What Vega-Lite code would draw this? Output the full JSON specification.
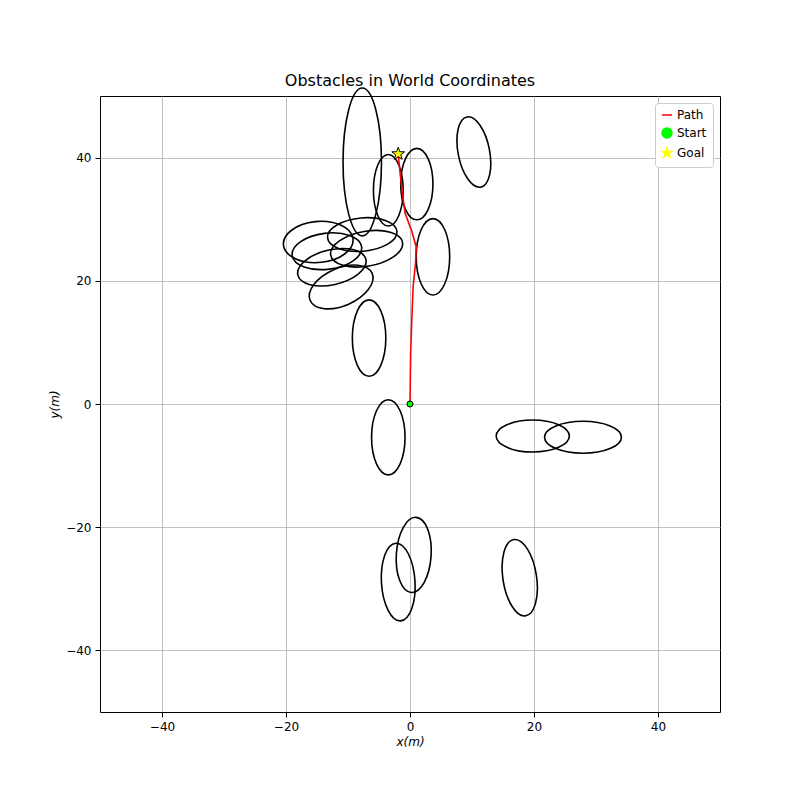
{
  "$schema": "https://vega.github.io/schema/vega-lite/v6.json",
  "width": 620,
  "height": 616,
  "autosize": "none",
  "padding": {"left": 100, "top": 96, "right": 80, "bottom": 88},
  "background": "white",
  "title": {"text": "Obstacles in World Coordinates", "fontSize": 16, "fontWeight": "normal", "font": "DejaVu Sans", "offset": -4},
  "datasets": {
    "obstacles": [
      {"id":1,"k":0,"x":-7.7,"y":51.3},{"id":1,"k":1,"x":-4.6,"y":39.3},{"id":1,"k":2,"x":-7.7,"y":27.3},{"id":1,"k":3,"x":-10.8,"y":39.3},
      {"id":2,"k":0,"x":-3.5,"y":40.5},{"id":2,"k":1,"x":-1.1,"y":34.7},{"id":2,"k":2,"x":-3.5,"y":28.9},{"id":2,"k":3,"x":-5.9,"y":34.7},
      {"id":3,"k":0,"x":1.1,"y":41.5},{"id":3,"k":1,"x":3.7,"y":35.7},{"id":3,"k":2,"x":1.1,"y":29.9},{"id":3,"k":3,"x":-1.5,"y":35.7},
      {"id":4,"k":0,"x":9.2,"y":46.6},{"id":4,"k":1,"x":12.8,"y":41.35},{"id":4,"k":2,"x":11.4,"y":35.2},{"id":4,"k":3,"x":7.8,"y":40.45},
      {"id":5,"k":0,"x":3.7,"y":30.1},{"id":5,"k":1,"x":6.4,"y":23.9},{"id":5,"k":2,"x":3.7,"y":17.7},{"id":5,"k":3,"x":1.0,"y":23.9},
      {"id":6,"k":0,"x":-6.6,"y":16.9},{"id":6,"k":1,"x":-3.9,"y":10.7},{"id":6,"k":2,"x":-6.6,"y":4.5},{"id":6,"k":3,"x":-9.3,"y":10.7},
      {"id":7,"k":0,"x":-3.5,"y":0.7},{"id":7,"k":1,"x":-0.8,"y":-5.4},{"id":7,"k":2,"x":-3.5,"y":-11.5},{"id":7,"k":3,"x":-6.2,"y":-5.4},
      {"id":8,"k":0,"x":1.0,"y":-18.4},{"id":8,"k":1,"x":3.4,"y":-24.7},{"id":8,"k":2,"x":0.2,"y":-30.6},{"id":8,"k":3,"x":-2.2,"y":-24.3},
      {"id":9,"k":0,"x":-2.3,"y":-22.6},{"id":9,"k":1,"x":0.8,"y":-28.7},{"id":9,"k":2,"x":-1.5,"y":-35.2},{"id":9,"k":3,"x":-4.6,"y":-29.1},
      {"id":10,"k":0,"x":16.8,"y":-22.0},{"id":10,"k":1,"x":20.4,"y":-27.9},{"id":10,"k":2,"x":18.6,"y":-34.4},{"id":10,"k":3,"x":15.0,"y":-28.5},
      {"id":11,"k":0,"x":25.7,"y":-5.2},{"id":11,"k":1,"x":19.8,"y":-2.6},{"id":11,"k":2,"x":13.9,"y":-5.2},{"id":11,"k":3,"x":19.8,"y":-7.8},
      {"id":12,"k":0,"x":34.1,"y":-5.4},{"id":12,"k":1,"x":27.9,"y":-2.8},{"id":12,"k":2,"x":21.7,"y":-5.4},{"id":12,"k":3,"x":27.9,"y":-8.0},
      {"id":13,"k":0,"x":-9.2,"y":26.9},{"id":13,"k":1,"x":-15.3,"y":29.6},{"id":13,"k":2,"x":-20.4,"y":25.7},{"id":13,"k":3,"x":-14.3,"y":23.0},
      {"id":14,"k":0,"x":-2.1,"y":28.0},{"id":14,"k":1,"x":-7.9,"y":30.2},{"id":14,"k":2,"x":-13.3,"y":27.0},{"id":14,"k":3,"x":-7.5,"y":24.8},
      {"id":15,"k":0,"x":-7.8,"y":25.5},{"id":15,"k":1,"x":-13.8,"y":27.7},{"id":15,"k":2,"x":-19.0,"y":24.1},{"id":15,"k":3,"x":-13.0,"y":21.9},
      {"id":16,"k":0,"x":-1.2,"y":26.2},{"id":16,"k":1,"x":-7.4,"y":28.0},{"id":16,"k":2,"x":-12.8,"y":24.2},{"id":16,"k":3,"x":-6.6,"y":22.4},
      {"id":17,"k":0,"x":-7.1,"y":23.4},{"id":17,"k":1,"x":-13.1,"y":25.0},{"id":17,"k":2,"x":-18.1,"y":21.0},{"id":17,"k":3,"x":-12.1,"y":19.4},
      {"id":18,"k":0,"x":-6.1,"y":21.2},{"id":18,"k":1,"x":-12.3,"y":21.8},{"id":18,"k":2,"x":-16.1,"y":16.8},{"id":18,"k":3,"x":-9.9,"y":16.2}
    ],
    "path": [
      {"k":0,"x":0.0,"y":0.0},{"k":1,"x":0.1,"y":8.0},{"k":2,"x":0.3,"y":14.0},{"k":3,"x":0.5,"y":19.0},
      {"k":4,"x":0.9,"y":23.0},{"k":5,"x":1.0,"y":25.5},{"k":6,"x":0.3,"y":28.0},{"k":7,"x":-0.8,"y":31.0},
      {"k":8,"x":-1.2,"y":34.0},{"k":9,"x":-1.6,"y":37.5},{"k":10,"x":-1.9,"y":40.6}
    ],
    "marks": [
      {"series":"Start","x":0.0,"y":0.0},
      {"series":"Goal","x":-1.9,"y":40.6}
    ]
  },
  "encoding": {
    "x": {"field":"x","type":"quantitative","scale":{"domain":[-50,50],"nice":false,"zero":false},
      "axis":{"values":[-40,-20,0,20,40],"title":"x(m)","titleFontStyle":"italic"}},
    "y": {"field":"y","type":"quantitative","scale":{"domain":[-50,50],"nice":false,"zero":false},
      "axis":{"values":[-40,-20,0,20,40],"title":"y(m)","titleFontStyle":"italic"}}
  },
  "layer": [
    {
      "data": {"name":"obstacles"},
      "mark": {"type":"line","interpolate":"cardinal-closed","tension":-0.65,"color":"black","strokeWidth":1.6,"clip":false},
      "encoding": {"detail":{"field":"id"},"order":{"field":"k"}}
    },
    {
      "data": {"name":"path"},
      "transform": [{"calculate":"'Path'","as":"series"}],
      "mark": {"type":"line","strokeWidth":1.6},
      "encoding": {"order":{"field":"k"},
        "color":{"field":"series","type":"nominal","scale":{"domain":["Path","Start","Goal"],"range":["red","#00ff00","yellow"]},"title":null}}
    },
    {
      "data": {"name":"marks"},
      "mark": {"type":"point","filled":true,"stroke":"black","strokeWidth":1,"opacity":1},
      "encoding": {
        "color":{"field":"series","type":"nominal","title":null},
        "shape":{"field":"series","type":"nominal","scale":{"domain":["Path","Start","Goal"],"range":["stroke","circle","M0,-1L0.235,-0.324L0.951,-0.309L0.38,0.124L0.588,0.809L0,0.4L-0.588,0.809L-0.38,0.124L-0.951,-0.309L-0.235,-0.324Z"]},"title":null},
        "size":{"field":"series","type":"nominal","scale":{"domain":["Start","Goal"],"range":[36,180]},"legend":null}
      }
    }
  ],
  "config": {
    "font": "DejaVu Sans",
    "view": {"stroke":"black","strokeWidth":1},
    "axis": {"grid":true,"gridColor":"#b0b0b0","gridWidth":0.8,"labelFontSize":12,"titleFontSize":12,"titleFontWeight":"normal","labelColor":"black","titleColor":"black","tickColor":"black","domain":false,"labelPadding":4},
    "legend": {"orient":"top-right","offset":7,"fillColor":"white","strokeColor":"#cccccc","padding":6,"cornerRadius":3,"labelFontSize":12,"symbolStrokeWidth":1.5,"rowPadding":4}
  }
}
